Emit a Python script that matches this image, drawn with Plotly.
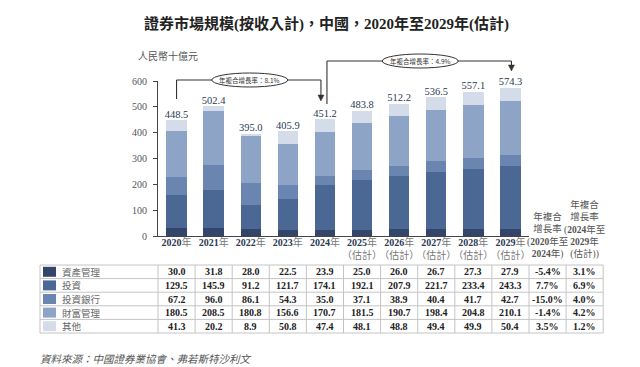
import plotly.graph_objects as go

# ---------------- data ----------------
years = ["2020", "2021", "2022", "2023", "2024", "2025", "2026", "2027", "2028", "2029"]
estimated = [False, False, False, False, False, True, True, True, True, True]
series_names = ["資產管理", "投資", "投資銀行", "財富管理", "其他"]
asset_mgmt = [30.0, 31.8, 28.0, 22.5, 23.9, 25.0, 26.0, 26.7, 27.3, 27.9]
investment = [129.5, 145.9, 91.2, 121.7, 174.1, 192.1, 207.9, 221.7, 233.4, 243.3]
inv_banking = [67.2, 96.0, 86.1, 54.3, 35.0, 37.1, 38.9, 40.4, 41.7, 42.7]
wealth_mgmt = [180.5, 208.5, 180.8, 156.6, 170.7, 181.5, 190.7, 198.4, 204.8, 210.1]
others = [41.3, 20.2, 8.9, 50.8, 47.4, 48.1, 48.8, 49.4, 49.9, 50.4]
totals = [448.5, 502.4, 395.0, 405.9, 451.2, 483.8, 512.2, 536.5, 557.1, 574.3]
cagr_2020_2024 = ["-5.4%", "7.7%", "-15.0%", "-1.4%", "3.5%"]
cagr_2024_2029 = ["3.1%", "6.9%", "4.0%", "4.2%", "1.2%"]
cagr_total_hist = "8.1%"
cagr_total_fcst = "4.9%"
series_values = [asset_mgmt, investment, inv_banking, wealth_mgmt, others]
colors = ["#34456a", "#4b6894", "#6a85b0", "#8ea4c7", "#d3dce8"]

# ---------------- geometry ----------------
WIDTH, HEIGHT = 640, 367
L, R = 150, 521          # plot area px (x)
T, B = 73, 228           # plot area px (y)
W, H = R - L, B - T
XMIN, XMAX = -0.5, 9.5
YMAX = 600

SERIF = "Liberation Serif, Noto Sans CJK TC, serif"
CJK = "Noto Sans CJK TC, Liberation Serif, sans-serif"


def px2x(px):
    return (px - L) / W


def px2y(py):
    return (B - py) / H


def col_px(i):
    return L + (i - XMIN) / (XMAX - XMIN) * W


x_idx = list(range(len(years)))
fig = go.Figure()
for name, vals, c in zip(series_names, series_values, colors):
    fig.add_trace(go.Bar(x=x_idx, y=vals, name=name, marker=dict(color=c, line=dict(width=0)),
                         width=0.55, hoverinfo="y+name"))

fig.add_trace(go.Scatter(x=x_idx, y=totals, mode="text", text=[f"{t:.1f}" for t in totals],
                         textposition="top center", cliponaxis=False,
                         textfont=dict(family=SERIF, size=10.5, color="#2b3a55"),
                         hoverinfo="skip", showlegend=False))

ticktext = []
for y, e in zip(years, estimated):
    s = f"<b>{y}</b><span style='color:#777'>年</span>"
    if e:
        s += "<br><span style='color:#777'>（估計）</span>"
    ticktext.append(s)

shapes = []
ann = []

# table geometry
TBL_L, TBL_R = 32, col_px(11.5)
ROW_TOP, ROW_H = 257, 13.6
nrows = len(series_names)
grid = "#c4c4c4"
for r in range(nrows + 1):
    yy = px2y(ROW_TOP + r * ROW_H)
    shapes.append(dict(type="line", xref="paper", yref="paper", x0=px2x(TBL_L), x1=px2x(TBL_R),
                       y0=yy, y1=yy, line=dict(color=grid, width=1)))
vlines = [TBL_L, L] + [col_px(i + 0.5) for i in range(len(years) + 2)]
for vx in vlines:
    shapes.append(dict(type="line", xref="paper", yref="paper", x0=px2x(vx), x1=px2x(vx),
                       y0=px2y(ROW_TOP), y1=px2y(ROW_TOP + nrows * ROW_H), line=dict(color=grid, width=1)))

for r, (name, vals, c) in enumerate(zip(series_names, series_values, colors)):
    yc = ROW_TOP + (r + 0.5) * ROW_H
    shapes.append(dict(type="rect", xref="paper", yref="paper", x0=px2x(35), x1=px2x(48),
                       y0=px2y(yc + 5), y1=px2y(yc - 5), fillcolor=c, line=dict(width=0)))
    ann.append(dict(x=px2x(52), y=px2y(yc), xref="paper", yref="paper", text=name, showarrow=False,
                    xanchor="left", yanchor="middle", font=dict(family=CJK, size=9.5, color="#666")))
    cells = [f"{v:.1f}" for v in vals] + [cagr_2020_2024[r], cagr_2024_2029[r]]
    for i, t in enumerate(cells):
        ann.append(dict(x=px2x(col_px(i)), y=px2y(yc), xref="paper", yref="paper", text=f"<b>{t}</b>",
                        showarrow=False, xanchor="center", yanchor="middle",
                        font=dict(family=SERIF, size=10, color="#222")))

# CAGR column headers
hdr1 = "年複合<br>增長率<br>(<b>2020</b>年至<br><b>2024</b>年)"
hdr2 = "年複合<br>增長率<br>(<b>2024</b>年至<br><b>2029</b>年<br>(估計))"
for i, h in [(10, hdr1), (11, hdr2)]:
    ann.append(dict(x=px2x(col_px(i)), y=px2y(254), xref="paper", yref="paper", text=h, showarrow=False,
                    xanchor="center", yanchor="bottom",
                    font=dict(family=SERIF, size=9.5, color="#555")))

# CAGR brackets
line_c = "#333"


def seg(x0, y0, x1, y1):
    shapes.append(dict(type="line", xref="paper", yref="paper", x0=px2x(x0), y0=px2y(y0),
                       x1=px2x(x1), y1=px2y(y1), line=dict(color=line_c, width=1.1)))


def arrow(x, y):
    p = f"M {px2x(x-3)},{px2y(y-6)} L {px2x(x+3)},{px2y(y-6)} L {px2x(x)},{px2y(y)} Z"
    shapes.append(dict(type="path", xref="paper", yref="paper", path=p, fillcolor=line_c,
                       line=dict(color=line_c, width=0.5)))


def ellipse(cx, cy, w, h, txt):
    shapes.append(dict(type="circle", xref="paper", yref="paper", x0=px2x(cx - w / 2), x1=px2x(cx + w / 2),
                       y0=px2y(cy + h / 2), y1=px2y(cy - h / 2), fillcolor="white",
                       line=dict(color=line_c, width=1)))
    ann.append(dict(x=px2x(cx), y=px2y(cy), xref="paper", yref="paper", text=txt, showarrow=False,
                    xanchor="center", yanchor="middle", font=dict(family=CJK, size=6.5, color="#333")))


x0 = col_px(0)
x4a = col_px(4) - 4
x4b = col_px(4) + 2
x9 = col_px(9) + 1
seg(x0, 91, x0, 72); seg(x0, 72, x4a, 72); seg(x4a, 72, x4a, 88); arrow(x4a, 93)
ellipse((x0 + x4a) / 2 + 1, 72, 76, 14, f"年複合增長率：{cagr_total_hist}")
seg(x4b, 96, x4b, 53); seg(x4b, 53, x9, 53); seg(x9, 53, x9, 58); arrow(x9, 63)
ellipse((x4b + x9) / 2 + 1, 53, 76, 14, f"年複合增長率：{cagr_total_fcst}")

# title, unit, source
ann.append(dict(x=px2x(318), y=px2y(16), xref="paper", yref="paper",
                text="<b>證券市場規模(按收入計)，中國，2020年至2029年(估計)</b>", showarrow=False,
                xanchor="center", yanchor="middle", font=dict(family=SERIF, size=15, color="#222")))
ann.append(dict(x=px2x(128), y=px2y(48), xref="paper", yref="paper", text="人民幣十億元", showarrow=False,
                xanchor="left", yanchor="middle", font=dict(family=CJK, size=10, color="#555")))
ann.append(dict(x=px2x(30), y=px2y(350), xref="paper", yref="paper",
                text="<i>資料來源：中國證券業協會、弗若斯特沙利文</i>", showarrow=False,
                xanchor="left", yanchor="middle", font=dict(family=CJK, size=10.5, color="#555")))

fig.update_layout(
    width=WIDTH, height=HEIGHT, barmode="stack", showlegend=False,
    margin=dict(l=L, r=WIDTH - R, t=T, b=HEIGHT - B, pad=0),
    paper_bgcolor="white", plot_bgcolor="white",
    shapes=shapes, annotations=ann,
    xaxis=dict(range=[XMIN, XMAX], tickvals=x_idx, ticktext=ticktext, showgrid=False, zeroline=False,
               showline=True, linecolor="#444", linewidth=1.2, ticks="", fixedrange=True, tickangle=0,
               ticklabelstandoff=-3,
               tickfont=dict(family=SERIF, size=10, color="#2b3a55")),
    yaxis=dict(range=[0, YMAX], tickvals=list(range(0, 601, 100)), showgrid=False, zeroline=False,
               showline=True, linecolor="#444", linewidth=1, ticks="outside", ticklen=4, tickcolor="#444",
               ticklabelstandoff=4,
               tickfont=dict(family=SERIF, size=10, color="#555"), fixedrange=True),
)

fig.write_html("out.html")
